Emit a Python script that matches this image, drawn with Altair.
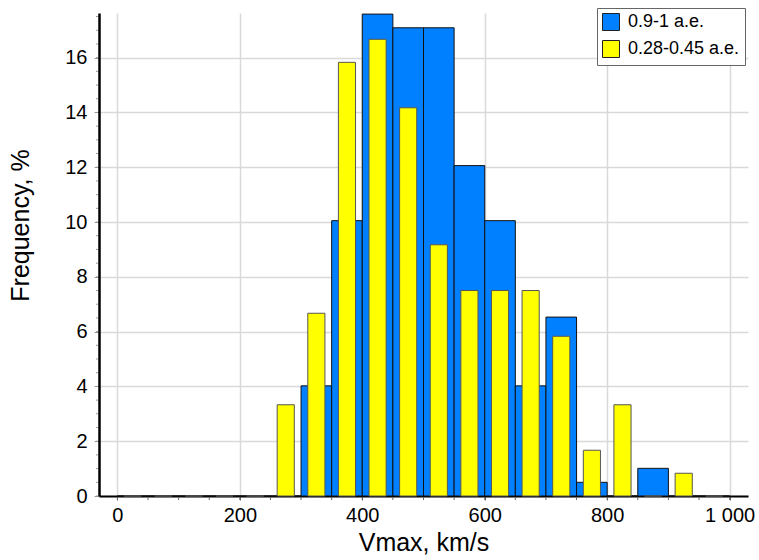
import altair as alt
import pandas as pd

# ---- data ----
bin_starts = [0, 50, 100, 150, 200, 250, 300, 350, 400, 450,
              500, 550, 600, 650, 700, 750, 800, 850, 900, 950]
bin_width = 50
blue_pct = [0, 0, 0, 0, 0, 0, 4.02, 10.05, 17.59, 17.09,
            17.09, 12.06, 10.05, 4.02, 6.53, 0.50, 0, 1.01, 0, 0]
yellow_pct = [0, 0, 0, 0, 0, 3.33, 6.67, 15.83, 16.67, 14.17,
              9.17, 7.50, 7.50, 7.50, 5.83, 1.67, 3.33, 0, 0.83, 0]
series_names = ["0.9-1 a.e.", "0.28-0.45 a.e."]
series_colors = ["#0080FF", "#FFFF00"]
x_major = [0, 200, 400, 600, 800, 1000]
x_minor = list(range(0, 1001, 50))
y_major = [0, 2, 4, 6, 8, 10, 12, 14, 16]
y_minor = [v / 2 for v in range(0, 36)]
yellow_frac = 0.56

FONT = "Liberation Sans"

blue_df = pd.DataFrame({
    "start": bin_starts,
    "end": [b + bin_width for b in bin_starts],
    "pct": blue_pct,
    "series": series_names[0],
})
yellow_df = pd.DataFrame({
    "start": [b + bin_width * (1 - yellow_frac) / 2 for b in bin_starts],
    "end": [b + bin_width * (1 + yellow_frac) / 2 for b in bin_starts],
    "pct": yellow_pct,
    "series": series_names[1],
})

xscale = alt.Scale(domain=[-30, 1030], nice=False, zero=False)
yscale = alt.Scale(domain=[0, 17.63], nice=False)
color = alt.Color(
    "series:N",
    scale=alt.Scale(domain=series_names, range=series_colors),
    legend=alt.Legend(
        title=None, orient="none", legendX=498, legendY=-5,
        symbolType="square", symbolSize=289, symbolStrokeColor="#222222",
        symbolStrokeWidth=1, symbolOpacity=1,
        labelFont=FONT, labelFontSize=18, labelColor="#000000",
        labelOffset=8, rowPadding=5, padding=5,
        strokeColor="#666666", fillColor="#ffffff",
    ),
)

xaxis = alt.Axis(
    values=x_major, grid=True, gridColor="#d9d9d9", gridWidth=1.5,
    labelExpr="replace(format(datum.value, ','), ',', ' ')",
    labelFont=FONT, labelFontSize=20, labelColor="#000000", labelPadding=5,
    tickSize=4, tickColor="#666666", domainColor="#000000", domainWidth=2,
    title="Vmax, km/s", titleFont=FONT, titleFontSize=25,
    titleFontWeight="normal", titleColor="#000000", titlePadding=5,
)
yaxis = alt.Axis(
    values=y_major, grid=True, gridColor="#d9d9d9", gridWidth=1.5,
    labelFont=FONT, labelFontSize=20, labelColor="#000000", labelPadding=7,
    tickSize=5, tickColor="#999999", domainColor="#000000", domainWidth=2.5,
    title="Frequency, %", titleFont=FONT, titleFontSize=25,
    titleFontWeight="normal", titleColor="#000000",
    titleX=-66, titleY=212,
)

blue = alt.Chart(blue_df).mark_rect(stroke="#111111", strokeWidth=1).encode(
    x=alt.X("start:Q", scale=xscale, axis=xaxis),
    x2="end:Q",
    y=alt.Y("pct:Q", scale=yscale, axis=yaxis),
    y2=alt.datum(0),
    color=color,
)
yellow = alt.Chart(yellow_df).mark_rect(stroke="#555555", strokeWidth=1).encode(
    x=alt.X("start:Q", scale=xscale),
    x2="end:Q",
    y=alt.Y("pct:Q", scale=yscale),
    y2=alt.datum(0),
    color=color,
)

xminor_df = pd.DataFrame({"v": x_minor})
yminor_df = pd.DataFrame({"v": y_minor})
xminor = alt.Chart(xminor_df).mark_rule(color="#666666", strokeWidth=1).encode(
    x=alt.X("v:Q", scale=xscale),
    y=alt.value(484), y2=alt.value(487),
)
yminor = alt.Chart(yminor_df).mark_rule(color="#999999", strokeWidth=1).encode(
    y=alt.Y("v:Q", scale=yscale),
    x=alt.value(-3), x2=alt.value(-1),
)

chart = alt.layer(blue, yellow, xminor, yminor).properties(
    width=649, height=483,
    autosize=alt.AutoSizeParams(type="none"),
    padding={"left": 99, "top": 13, "right": 11, "bottom": 64},
    background="#ffffff",
).configure_view(stroke=None)

chart.save("out.html", embed_options={"renderer": "svg", "actions": False})
